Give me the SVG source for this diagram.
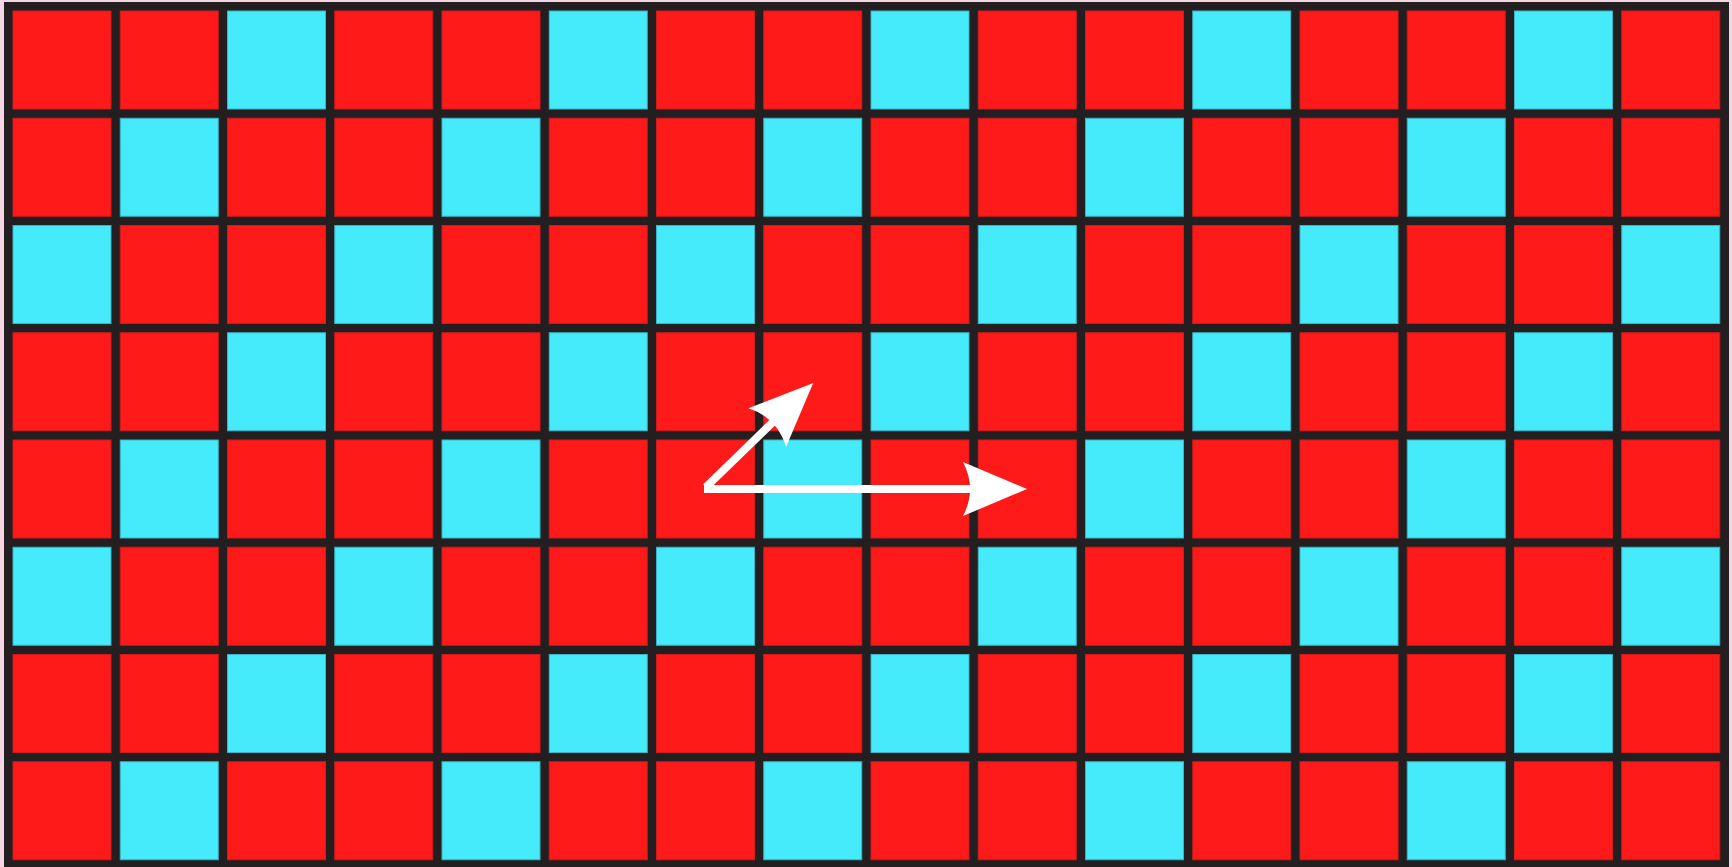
<svg xmlns="http://www.w3.org/2000/svg" width="1732" height="867" viewBox="0 0 1732 867">
<style>
.r{fill:#FD1A19;stroke:#D01A1E;stroke-width:1}
.c{fill:#45EAFB;stroke:#3AB4C4;stroke-width:1}
.arr{stroke:#FFFFFF;stroke-width:8;fill:none}
</style>
<defs>
<marker id="head" markerUnits="userSpaceOnUse" markerWidth="140" markerHeight="140" viewBox="-70 -70 140 140" refX="0" refY="0" orient="auto" overflow="visible">
<path d="M 56 0 L -8 -27 Q 6 0 -8 27 Z" fill="#FFFFFF"/>
</marker>
<rect id="R" class="r" width="98" height="98"/>
<rect id="C" class="c" width="98" height="98"/>
</defs>
<rect width="1732" height="867" fill="#F6D6E2"/>
<rect id="grid-frame" x="4" y="2" width="1725" height="865" fill="#231F20"/>
<g id="cells">
<g id="row0" transform="translate(0,11)">
<use href="#R" x="13"/><use href="#R" x="120.25"/><use href="#C" x="227.5"/><use href="#R" x="334.75"/><use href="#R" x="442"/><use href="#C" x="549.25"/><use href="#R" x="656.5"/><use href="#R" x="763.75"/><use href="#C" x="871"/><use href="#R" x="978.25"/><use href="#R" x="1085.5"/><use href="#C" x="1192.75"/><use href="#R" x="1300"/><use href="#R" x="1407.25"/><use href="#C" x="1514.5"/><use href="#R" x="1621.75"/>
</g>
<g id="row1" transform="translate(0,118.25)">
<use href="#R" x="13"/><use href="#C" x="120.25"/><use href="#R" x="227.5"/><use href="#R" x="334.75"/><use href="#C" x="442"/><use href="#R" x="549.25"/><use href="#R" x="656.5"/><use href="#C" x="763.75"/><use href="#R" x="871"/><use href="#R" x="978.25"/><use href="#C" x="1085.5"/><use href="#R" x="1192.75"/><use href="#R" x="1300"/><use href="#C" x="1407.25"/><use href="#R" x="1514.5"/><use href="#R" x="1621.75"/>
</g>
<g id="row2" transform="translate(0,225.5)">
<use href="#C" x="13"/><use href="#R" x="120.25"/><use href="#R" x="227.5"/><use href="#C" x="334.75"/><use href="#R" x="442"/><use href="#R" x="549.25"/><use href="#C" x="656.5"/><use href="#R" x="763.75"/><use href="#R" x="871"/><use href="#C" x="978.25"/><use href="#R" x="1085.5"/><use href="#R" x="1192.75"/><use href="#C" x="1300"/><use href="#R" x="1407.25"/><use href="#R" x="1514.5"/><use href="#C" x="1621.75"/>
</g>
<g id="row3" transform="translate(0,332.75)">
<use href="#R" x="13"/><use href="#R" x="120.25"/><use href="#C" x="227.5"/><use href="#R" x="334.75"/><use href="#R" x="442"/><use href="#C" x="549.25"/><use href="#R" x="656.5"/><use href="#R" x="763.75"/><use href="#C" x="871"/><use href="#R" x="978.25"/><use href="#R" x="1085.5"/><use href="#C" x="1192.75"/><use href="#R" x="1300"/><use href="#R" x="1407.25"/><use href="#C" x="1514.5"/><use href="#R" x="1621.75"/>
</g>
<g id="row4" transform="translate(0,440)">
<use href="#R" x="13"/><use href="#C" x="120.25"/><use href="#R" x="227.5"/><use href="#R" x="334.75"/><use href="#C" x="442"/><use href="#R" x="549.25"/><use href="#R" x="656.5"/><use href="#C" x="763.75"/><use href="#R" x="871"/><use href="#R" x="978.25"/><use href="#C" x="1085.5"/><use href="#R" x="1192.75"/><use href="#R" x="1300"/><use href="#C" x="1407.25"/><use href="#R" x="1514.5"/><use href="#R" x="1621.75"/>
</g>
<g id="row5" transform="translate(0,547.25)">
<use href="#C" x="13"/><use href="#R" x="120.25"/><use href="#R" x="227.5"/><use href="#C" x="334.75"/><use href="#R" x="442"/><use href="#R" x="549.25"/><use href="#C" x="656.5"/><use href="#R" x="763.75"/><use href="#R" x="871"/><use href="#C" x="978.25"/><use href="#R" x="1085.5"/><use href="#R" x="1192.75"/><use href="#C" x="1300"/><use href="#R" x="1407.25"/><use href="#R" x="1514.5"/><use href="#C" x="1621.75"/>
</g>
<g id="row6" transform="translate(0,654.5)">
<use href="#R" x="13"/><use href="#R" x="120.25"/><use href="#C" x="227.5"/><use href="#R" x="334.75"/><use href="#R" x="442"/><use href="#C" x="549.25"/><use href="#R" x="656.5"/><use href="#R" x="763.75"/><use href="#C" x="871"/><use href="#R" x="978.25"/><use href="#R" x="1085.5"/><use href="#C" x="1192.75"/><use href="#R" x="1300"/><use href="#R" x="1407.25"/><use href="#C" x="1514.5"/><use href="#R" x="1621.75"/>
</g>
<g id="row7" transform="translate(0,761.75)">
<use href="#R" x="13"/><use href="#C" x="120.25"/><use href="#R" x="227.5"/><use href="#R" x="334.75"/><use href="#C" x="442"/><use href="#R" x="549.25"/><use href="#R" x="656.5"/><use href="#C" x="763.75"/><use href="#R" x="871"/><use href="#R" x="978.25"/><use href="#C" x="1085.5"/><use href="#R" x="1192.75"/><use href="#R" x="1300"/><use href="#C" x="1407.25"/><use href="#R" x="1514.5"/><use href="#R" x="1621.75"/>
</g>
</g>
<g id="connectors">
<line class="arr" x1="704" y1="489" x2="971" y2="489" marker-end="url(#head)"/>
<line class="arr" x1="706" y1="487" x2="773" y2="422" marker-end="url(#head)"/>
</g>
</svg>
